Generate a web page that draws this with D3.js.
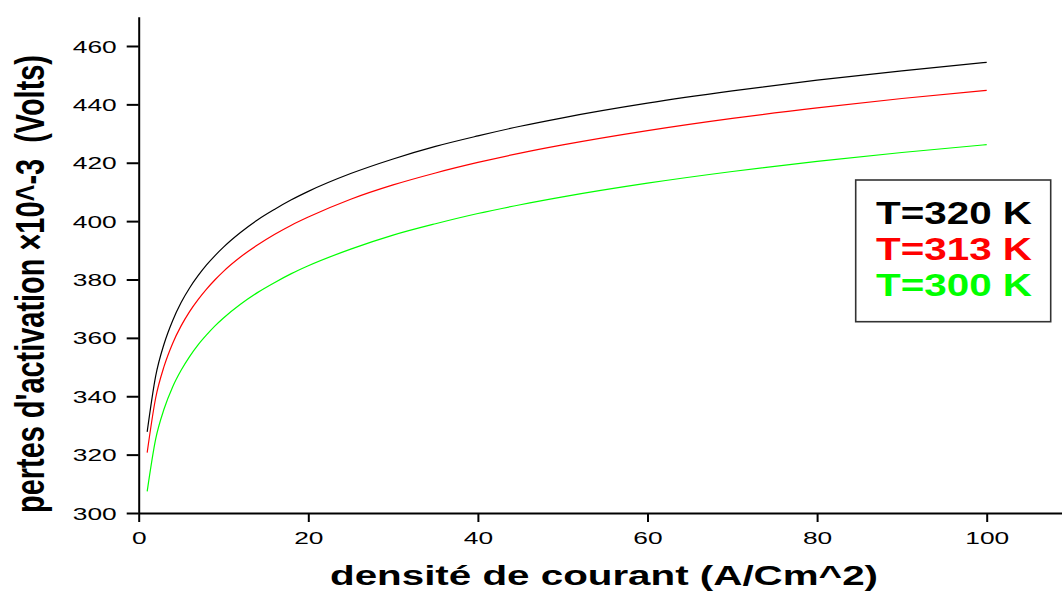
<!DOCTYPE html>
<html><head><meta charset="utf-8">
<script src="https://cdn.jsdelivr.net/npm/d3@7/dist/d3.min.js"></script>
<style>
html,body{margin:0;padding:0;background:#fff;}
svg{display:block;}
text{font-family:"Liberation Sans",Arial,sans-serif;}
</style></head>
<body>
<script>
const xValues = [1,2,3,4,5,6,7,8,9,10,12,14,16,18,20,25,30,35,40,45,50,60,70,80,90,100];
const t320 = [327.8,346.9,358.0,365.9,372.1,377.1,381.3,385.0,388.2,391.1,396.1,400.4,404.0,407.3,410.2,416.3,421.3,425.6,429.2,432.5,435.4,440.4,444.6,448.3,451.5,454.4];
const t313 = [320.7,339.4,350.3,358.1,364.1,369.0,373.1,376.7,379.9,382.8,387.7,391.8,395.4,398.6,401.4,407.5,412.4,416.5,420.1,423.3,426.1,431.0,435.2,438.8,442.0,444.8];
const t300 = [307.4,325.3,335.7,343.2,348.9,353.6,357.6,361.0,364.1,366.8,371.5,375.5,378.9,382.0,384.7,390.4,395.2,399.1,402.6,405.6,408.3,413.0,417.0,420.5,423.5,426.2];
const seriesNames = ["T=320 K","T=313 K","T=300 K"];
const seriesColors = ["#000000","#ff0000","#00ff00"];
const xTicks = [0,20,40,60,80,100];
const xMinor = [10,30,50,70,90,110];
const yTicks = [300,320,340,360,380,400,420,440,460];
const yMinor = [310,330,350,370,390,410,430,450,470];
const xTitle = "densité de courant (A/Cm^2)";
const yTitle = "pertes d'activation \u00d710^-3  (Volts)";

const W = 1062, H = 591;
const svg = d3.select("body").append("svg").attr("width", W).attr("height", H);

const x0 = 138.7, pxPerUnit = 8.48;
const x = d3.scaleLinear().domain([0,110]).range([x0, x0 + 110*pxPerUnit]);
const y = d3.scaleLinear().domain([300,470]).range([513, 16.8]);
const SX = 1.55;

// lines
const series = [t320, t313, t300];
const line = d3.line().x(d => x(d[0])).y(d => y(d[1])).curve(d3.curveMonotoneX);
series.forEach((s, i) => {
  svg.append("path")
    .datum(xValues.map((xv, j) => [xv, s[j]]))
    .attr("d", line)
    .attr("fill", "none")
    .attr("stroke", seriesColors[i])
    .attr("stroke-width", 1.2);
});

// x axis
const gx = svg.append("g").attr("transform", `translate(0,${y(300)})`);
gx.call(d3.axisBottom(x).tickValues(xMinor).tickSize(4).tickFormat(""));
gx.call(d3.axisBottom(x).tickValues(xTicks).tickSize(9).tickSizeOuter(0).tickFormat(d3.format("d")));
gx.selectAll("path.domain").attr("stroke","#000").attr("stroke-width",2);
gx.selectAll(".tick line").attr("stroke","#000").attr("stroke-width",2);
gx.selectAll(".tick text")
  .attr("font-size", 17).attr("fill","#000")
  .attr("dy", 0).attr("y", 0)
  .attr("transform", `translate(0,30.5) scale(${SX},1)`);

// y axis
const gy = svg.append("g").attr("transform", `translate(${x0},0)`);
gy.call(d3.axisLeft(y).tickValues(yMinor).tickSize(6).tickFormat(""));
gy.call(d3.axisLeft(y).tickValues(yTicks).tickSize(12).tickSizeOuter(0).tickFormat(d3.format("d")));
gy.selectAll("path.domain").attr("stroke","#000").attr("stroke-width",2);
gy.selectAll(".tick line").attr("stroke","#000").attr("stroke-width",2);
gy.selectAll(".tick text")
  .attr("font-size", 17).attr("fill","#000")
  .attr("x", -22/SX).attr("dy","0.36em")
  .attr("transform", `scale(${SX},1)`);
svg.selectAll(".domain").attr("fill","none");

// axis titles
svg.append("text")
  .attr("x", 604).attr("y", 585)
  .attr("text-anchor","middle")
  .attr("font-size", 28).attr("font-weight","bold")
  .attr("textLength", 548).attr("lengthAdjust","spacingAndGlyphs")
  .text(xTitle);

svg.append("text")
  .attr("transform","translate(44,284) rotate(-90)")
  .attr("text-anchor","middle")
  .style("white-space","pre")
  .attr("font-size", 41).attr("font-weight","bold")
  .attr("textLength", 458).attr("lengthAdjust","spacingAndGlyphs")
  .text(yTitle);

// legend
svg.append("rect")
  .attr("x", 855.7).attr("y", 180).attr("width", 195).attr("height", 141.7)
  .attr("fill","#fff").attr("stroke","#333").attr("stroke-width",1.6);
const legBase = [224, 259.5, 296];
seriesNames.forEach((n, i) => {
  svg.append("text")
    .attr("x", 876).attr("y", legBase[i])
    .attr("font-size", 30.5).attr("font-weight","bold")
    .attr("fill", seriesColors[i])
    .attr("textLength", 156).attr("lengthAdjust","spacingAndGlyphs")
    .text(n);
});
</script>
</body></html>
